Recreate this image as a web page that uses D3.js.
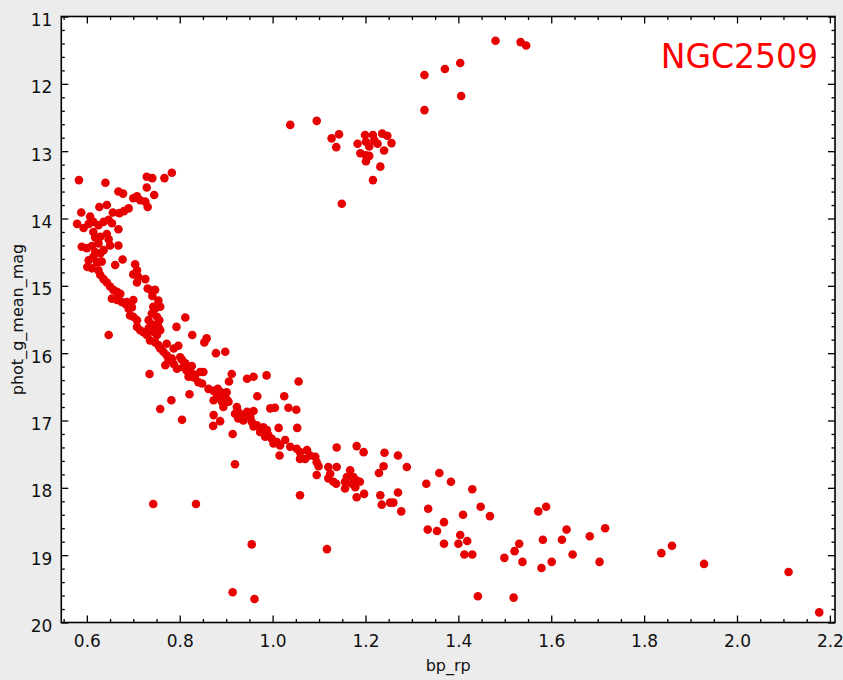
<!DOCTYPE html>
<html>
<head>
<meta charset="utf-8">
<script src="https://cdn.jsdelivr.net/npm/d3@7"></script>
<style>
  body { margin: 0; background: #ececec; }
  svg { display: block; }
  .tick text { font-family: "DejaVu Sans", sans-serif; font-size: 17px; fill: #111; }
  .title { font-family: "DejaVu Sans", sans-serif; font-size: 16px; fill: #111; }
</style>
</head>
<body>
<div id="chart"></div>
<script>
// [bp_rp, phot_g_mean_mag]
const giants = [[1.480,11.36],[1.534,11.38],[1.546,11.43],[1.404,11.69],[1.371,11.78],[1.327,11.87],
  [1.406,12.18],[1.327,12.39],[1.038,12.61],[1.095,12.55],[1.127,12.81],[1.143,12.75],[1.137,12.94]];

const redClump = [[1.199,12.76],[1.216,12.76],[1.236,12.74],[1.247,12.77],[1.183,12.89],[1.201,12.86],
  [1.208,12.93],[1.226,12.89],[1.219,12.84],[1.256,12.88],[1.240,12.99],[1.189,13.03],[1.201,13.06],
  [1.208,13.07],[1.201,13.15],[1.232,13.23],[1.216,13.43],[1.149,13.78]];

const turnoff = [[0.583,13.43],[0.640,13.47],[0.668,13.60],[0.678,13.63],[0.729,13.38],[0.741,13.40],
  [0.767,13.40],[0.783,13.32],[0.729,13.54],[0.745,13.65],[0.700,13.70],[0.708,13.67],[0.715,13.73],
  [0.726,13.75],[0.731,13.83],[0.690,13.85],[0.680,13.89],[0.670,13.92],[0.627,13.83],[0.643,13.80],
  [0.656,13.91],[0.588,13.91],[0.607,13.97],[0.579,14.08],[0.614,14.05],[0.625,14.10],[0.636,14.05],
  [0.647,14.02],[0.654,14.07],[0.668,14.16],[0.593,14.14],[0.604,14.08],[0.614,14.20],[0.618,14.28],
  [0.629,14.27],[0.643,14.23],[0.647,14.31],[0.650,14.40],[0.668,14.40],[0.589,14.42],[0.600,14.44],
  [0.611,14.41],[0.618,14.50],[0.629,14.52],[0.636,14.47],[0.625,14.37],[0.604,14.62],[0.614,14.57],
  [0.622,14.65],[0.632,14.64],[0.601,14.72],[0.611,14.74],[0.625,14.77],[0.661,14.69],[0.677,14.61]];

const upperMS = [[0.704,14.68],[0.708,14.77],[0.700,14.83],[0.711,14.87],[0.708,14.95],[0.726,14.90],
  [0.731,15.04],[0.739,15.07],[0.747,15.06],[0.741,15.15],[0.629,14.84],[0.636,14.90],[0.643,14.95],
  [0.650,15.01],[0.657,15.06],[0.665,15.09],[0.672,15.12],[0.654,15.19],[0.665,15.21],[0.675,15.24],
  [0.686,15.24],[0.700,15.21],[0.754,15.22],[0.747,15.34],[0.758,15.31],[0.683,15.27],[0.690,15.34],
  [0.697,15.32],[0.693,15.44],[0.700,15.46],[0.708,15.51],[0.740,15.41],[0.751,15.46],[0.756,15.51],
  [0.812,15.47],[0.647,15.73],[0.708,15.61],[0.715,15.66],[0.722,15.69],[0.729,15.73],[0.733,15.63],
  [0.743,15.68],[0.751,15.73],[0.758,15.66],[0.743,15.58],[0.754,15.61],[0.793,15.61],[0.827,15.73],
  [0.853,15.84],[0.858,15.78],[0.736,15.81],[0.747,15.84],[0.754,15.88],[0.758,15.93],[0.765,15.98],
  [0.772,16.03],[0.776,16.10],[0.769,16.18],[0.787,15.93],[0.797,15.89],[0.772,15.86],[0.801,16.06],
  [0.805,16.10],[0.812,16.15],[0.808,16.21],[0.878,16.00],[0.898,15.98],[0.787,16.16],[0.794,16.23],
  [0.815,16.26],[0.826,16.30],[0.830,16.36],[0.844,16.28],[0.840,16.43],[0.735,16.31],[0.826,16.19],
  [0.851,16.28],[0.848,16.45],[0.819,16.35],[0.833,16.33],[0.783,16.08],[0.733,15.51],[0.743,15.31]];

const middleMS = [[0.912,16.31],[0.906,16.42],[0.945,16.38],[0.959,16.35],[0.987,16.33],[1.056,16.42],
  [0.862,16.53],[0.873,16.56],[0.882,16.53],[0.889,16.58],[0.901,16.58],[0.880,16.65],[0.894,16.63],
  [0.901,16.69],[0.873,16.70],[0.891,16.72],[0.905,16.72],[0.894,16.80],[0.821,16.61],[0.782,16.70],
  [0.758,16.83],[0.805,16.99],[0.873,16.92],[0.887,17.01],[0.872,17.08],[0.914,17.20],[0.967,16.64],
  [1.025,16.64],[0.923,16.80],[0.926,16.87],[0.919,16.90],[0.934,16.92],[0.945,16.87],[0.952,16.95],
  [0.959,16.86],[0.937,17.00],[0.955,17.02],[0.926,16.97],[0.995,16.82],[1.005,16.81],[1.034,16.81],
  [1.051,16.84],[0.966,17.07],[0.980,17.10],[1.013,17.11],[1.053,17.11],[0.959,17.09],[0.988,17.14],
  [0.973,17.17],[0.991,17.22],[0.998,17.27],[0.984,17.24],[1.002,17.34],[1.016,17.37],[1.027,17.29],
  [1.038,17.39],[1.052,17.42],[1.059,17.47],[1.074,17.44],[1.081,17.52],[1.070,17.57],[1.092,17.54],
  [1.095,17.62],[1.099,17.68],[1.015,17.52],[1.138,17.40],[1.120,17.69],[1.138,17.69],[1.124,17.79],
  [1.095,17.81],[0.919,17.65],[1.009,17.32],[1.059,17.57]];

const lowerMS = [[1.181,17.38],[1.196,17.47],[1.241,17.48],[1.270,17.52],[1.239,17.68],[1.229,17.78],
  [1.289,17.69],[1.167,17.74],[1.160,17.84],[1.174,17.84],[1.181,17.89],[1.188,17.91],[1.156,17.91],
  [1.171,17.94],[1.156,18.01],[1.178,17.99],[1.120,17.86],[1.131,17.91],[1.137,17.94],[1.059,18.11],
  [1.181,18.14],[1.197,18.09],[1.232,18.11],[1.235,18.25],[1.253,18.22],[1.260,18.22],[1.270,18.07],
  [1.277,18.35],[1.331,17.94],[1.359,17.78],[1.384,17.91],[1.430,18.02],[1.335,18.31],[1.334,18.62],
  [1.354,18.64],[1.369,18.51],[1.369,18.83],[1.410,18.40],[1.448,18.28],[1.468,18.42],[1.404,18.70],
  [1.419,18.79],[1.400,18.83],[1.413,18.99],[1.430,18.99],[1.442,19.61],[1.499,19.04],[1.521,18.94],
  [1.531,18.83],[1.538,19.10],[1.519,19.63],[1.572,18.35],[1.589,18.28],[1.582,18.77],[1.579,19.19],
  [1.601,19.10],[1.623,18.77],[1.633,18.62],[1.646,18.99],[1.683,18.72],[1.716,18.60],[1.704,19.10],
  [1.837,18.97],[1.860,18.86],[1.929,19.13],[2.111,19.25],[2.177,19.85]];

const outliers = [[0.743,18.24],[0.835,18.24],[0.955,18.84],[0.914,19.55],[0.961,19.65],[1.117,18.91]];

const stars = [].concat(giants, redClump, turnoff, upperMS, middleMS, lowerMS, outliers);

const xMajor = [0.6, 0.8, 1.0, 1.2, 1.4, 1.6, 1.8, 2.0, 2.2];
const yMajor = [11, 12, 13, 14, 15, 16, 17, 18, 19, 20];
const clusterName = "NGC2509";

var W = 843, H = 680;
var margin = {top: 16.5, right: 8, bottom: 57.5, left: 61.3};

var svg = d3.select("#chart").append("svg")
  .attr("width", W)
  .attr("height", H);

var x = d3.scaleLinear()
  .domain([0.545, 2.211])
  .range([margin.left, W - margin.right]);

var y = d3.scaleLinear()
  .domain([11, 20])
  .range([margin.top, H - margin.bottom]);

var x0 = x.range()[0], x1 = x.range()[1], y0 = y.range()[0], y1 = y.range()[1];

// white plot area
svg.append("rect")
  .attr("x", x0).attr("y", y0)
  .attr("width", x1 - x0).attr("height", y1 - y0)
  .attr("fill", "#fff");

// minor ticks
var xMinor = d3.range(0.55, 2.2101, 0.05).filter(v => xMajor.every(m => Math.abs(m - v) > 1e-6));
var yMinor = d3.range(11, 20.001, 0.2).filter(v => yMajor.every(m => Math.abs(m - v) > 1e-6));

function tickAxis(axisFn, scale, pos, major, minor, showLabels) {
  var g = svg.append("g").attr("transform", pos);
  g.call(axisFn(scale).tickValues(minor).tickSize(-3.5).tickFormat(""));
  var g2 = svg.append("g").attr("transform", pos);
  var ax = axisFn(scale).tickValues(major).tickSize(-7);
  if (showLabels) ax.tickFormat(d3.format(".1f")); else ax.tickFormat("");
  g2.call(ax);
  [g, g2].forEach(function(s) {
    s.select(".domain").remove();
    s.selectAll("line").attr("stroke", "#000").attr("stroke-width", 1.3);
  });
  return g2;
}

var bottom = tickAxis(d3.axisBottom, x, `translate(0,${y1})`, xMajor, xMinor, true);
bottom.selectAll("text").attr("y", 12.5);
tickAxis(d3.axisTop, x, `translate(0,${y0})`, xMajor, xMinor, false);

var left = svg.append("g").attr("transform", `translate(${x0},0)`);
left.call(d3.axisLeft(y).tickValues(yMinor).tickSize(-3.5).tickFormat(""));
var left2 = svg.append("g").attr("transform", `translate(${x0},0)`);
left2.call(d3.axisLeft(y).tickValues(yMajor).tickSize(-7).tickPadding(9).tickFormat(d3.format("d")));
left2.selectAll("text").attr("dy", "0.52em");
var right = svg.append("g").attr("transform", `translate(${x1},0)`);
right.call(d3.axisRight(y).tickValues(yMinor).tickSize(-3.5).tickFormat(""));
var right2 = svg.append("g").attr("transform", `translate(${x1},0)`);
right2.call(d3.axisRight(y).tickValues(yMajor).tickSize(-7).tickFormat(""));
[left, left2, right, right2].forEach(function(s) {
  s.select(".domain").remove();
  s.selectAll("line").attr("stroke", "#000").attr("stroke-width", 1.3);
});

// points
svg.append("g")
  .selectAll("circle")
  .data(stars)
  .enter()
  .append("circle")
  .attr("cx", d => x(d[0]))
  .attr("cy", d => y(d[1]))
  .attr("r", 4.3)
  .attr("fill", "#e60000");

// frame
svg.append("rect")
  .attr("x", x0).attr("y", y0)
  .attr("width", x1 - x0).attr("height", y1 - y0)
  .attr("fill", "none")
  .attr("stroke", "#000")
  .attr("stroke-width", 1.6);

// titles
svg.append("text")
  .attr("class", "title")
  .attr("x", (x0 + x1) / 2)
  .attr("y", 671)
  .attr("text-anchor", "middle")
  .text("bp_rp");

svg.append("text")
  .attr("class", "title")
  .attr("transform", `translate(23,${(y0 + y1) / 2}) rotate(-90)`)
  .attr("text-anchor", "middle")
  .text("phot_g_mean_mag");

svg.append("text")
  .attr("x", 818)
  .attr("y", 68)
  .attr("text-anchor", "end")
  .style("font-family", "DejaVu Sans, sans-serif")
  .style("font-size", "33px")
  .attr("fill", "#ff0000")
  .text(clusterName);
</script>
</body>
</html>
